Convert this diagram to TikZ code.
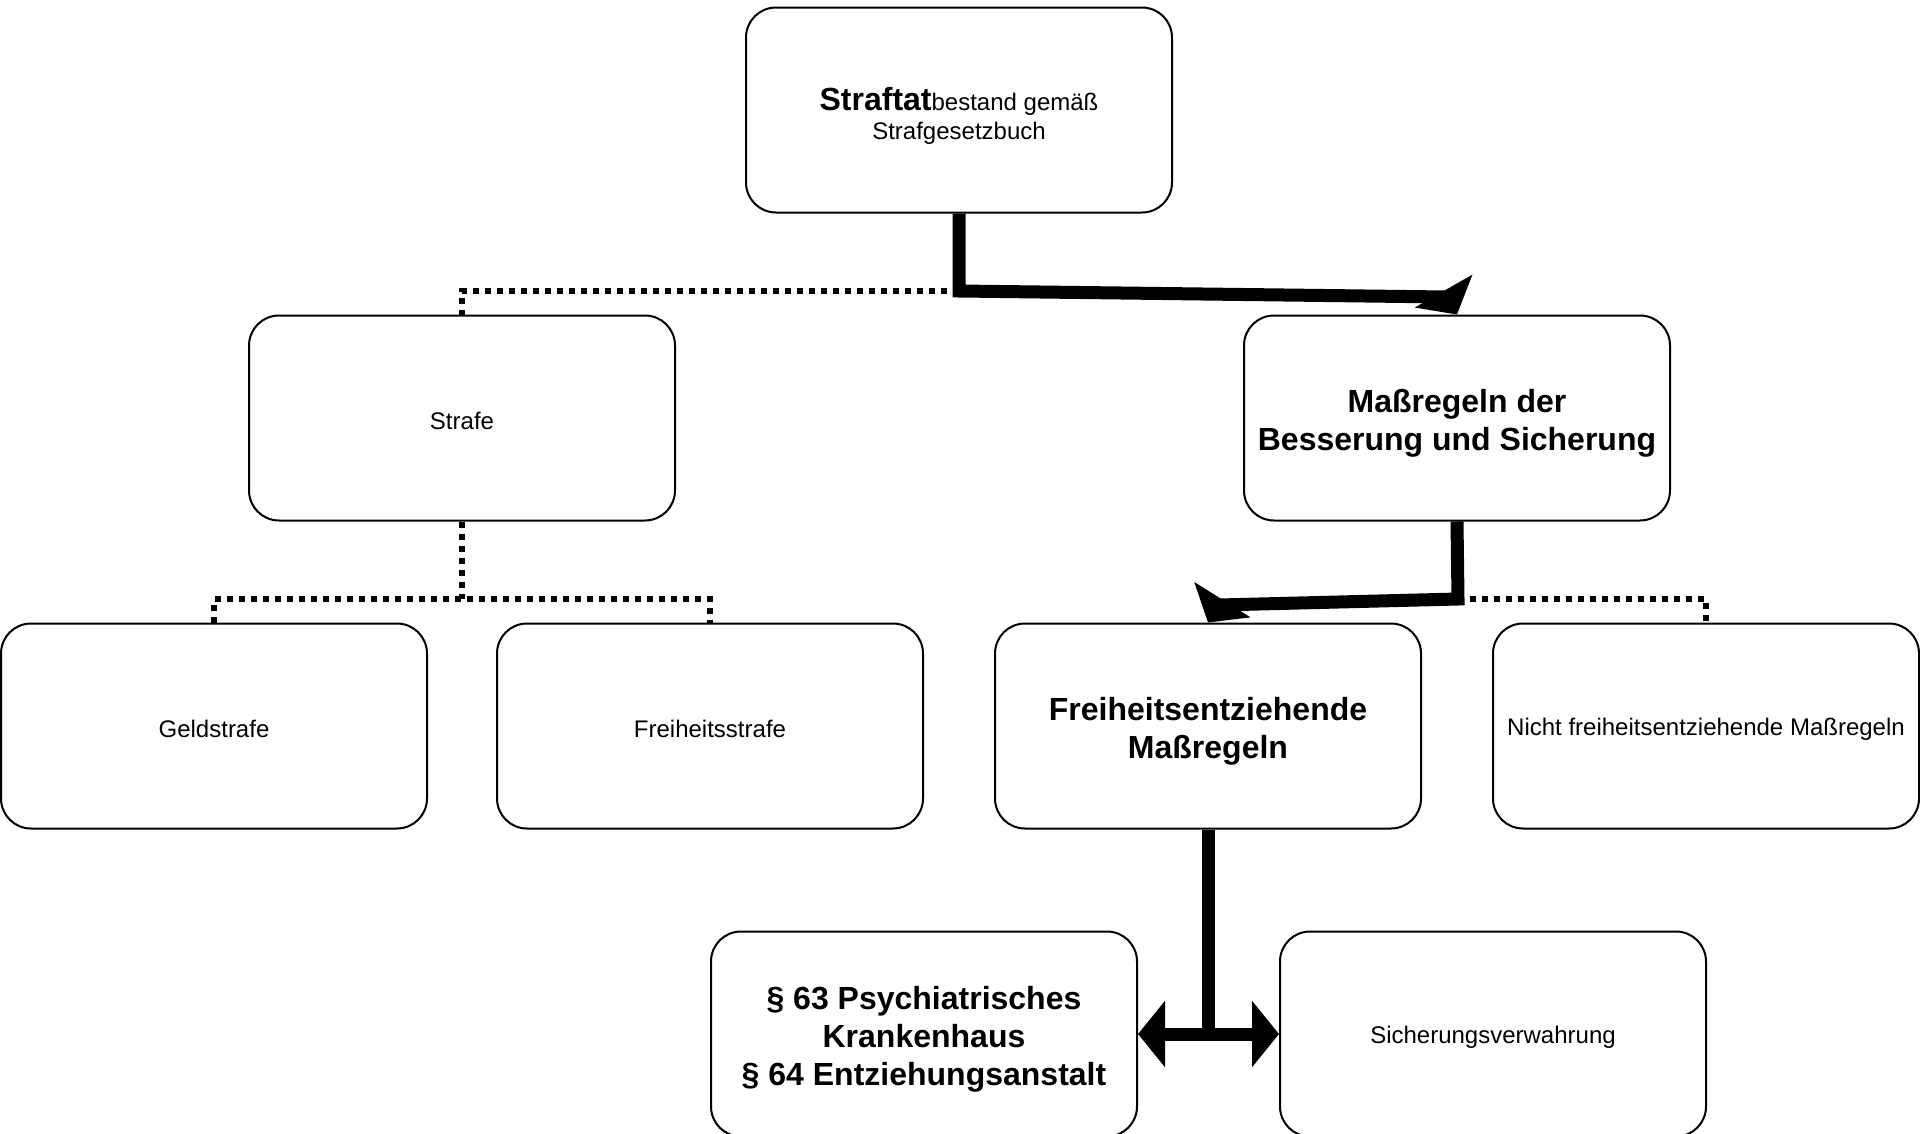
\documentclass[tikz,border=0pt]{standalone}
\usepackage{fontspec}
\setmainfont{Liberation Sans}
\usetikzlibrary{arrows.meta}
\newcommand\lifttext{\rule{0pt}{34pt}}
\begin{document}
\begin{tikzpicture}[x=1pt,y=-1pt,
box/.style={draw,line width=2pt,rounded corners=30pt,minimum width=426pt,minimum height=205pt,align=center,inner sep=2pt,font=\fontsize{24}{29}\selectfont,execute at begin node={\rule{0pt}{23pt}}},
bbox/.style={box,font=\fontsize{32}{38}\selectfont\bfseries},
strong/.style={line width=13pt},
dots/.style={line width=6pt,dash pattern=on 6pt off 6pt},
tip/.style={-{Triangle[length=27pt,width=65pt]}}]
\useasboundingbox (0,0) rectangle (1920,1133);
\node[box] (tat) at (959,110) {\lifttext{\fontsize{32}{38}\selectfont\bfseries Straftat}bestand gemäß\\Strafgesetzbuch};
\node[box] (strafe) at (462,418) {Strafe};
\node[bbox] (mr) at (1457,418) {\lifttext Maßregeln der\\Besserung und Sicherung};
\node[box] (geld) at (214,726) {Geldstrafe};
\node[box] (fstrafe) at (710,726) {Freiheitsstrafe};
\node[bbox] (fem) at (1208,726) {\lifttext Freiheitsentziehende\\Maßregeln};
\node[box] (nicht) at (1706,726) {Nicht freiheitsentziehende Maßregeln};
\node[bbox] (par) at (924,1034) {\lifttext § 63 Psychiatrisches\\Krankenhaus\\§ 64 Entziehungsanstalt};
\node[box] (sv) at (1493,1034) {Sicherungsverwahrung};
%%%%
\coordinate (j1) at (959,291);
\coordinate (k1) at (1447,297);
\coordinate (j2) at (1458,599);
\coordinate (k2) at (1219,605);
\coordinate (j3) at (462,599);
\draw[dots] (j1) -| (strafe.north);
\draw[dots] (strafe.south) -- (j3);
\draw[dots] (geld.north) |- (j3) -| (fstrafe.north);
\draw[dots] (j2) -| (nicht.north);
\draw[strong,tip] (tat.south) -- (j1) -- (k1) -- (mr.north);
\draw[strong,tip] (mr.south) -- (j2) -- (k2) -- (fem.north);
\draw[strong] (fem.south) -- (fem.south |- par.east);
\draw[strong,{Triangle[length=27pt,width=65pt]}-{Triangle[length=27pt,width=65pt]}] (par.east) -- (sv.west);
\end{tikzpicture}
\end{document}
